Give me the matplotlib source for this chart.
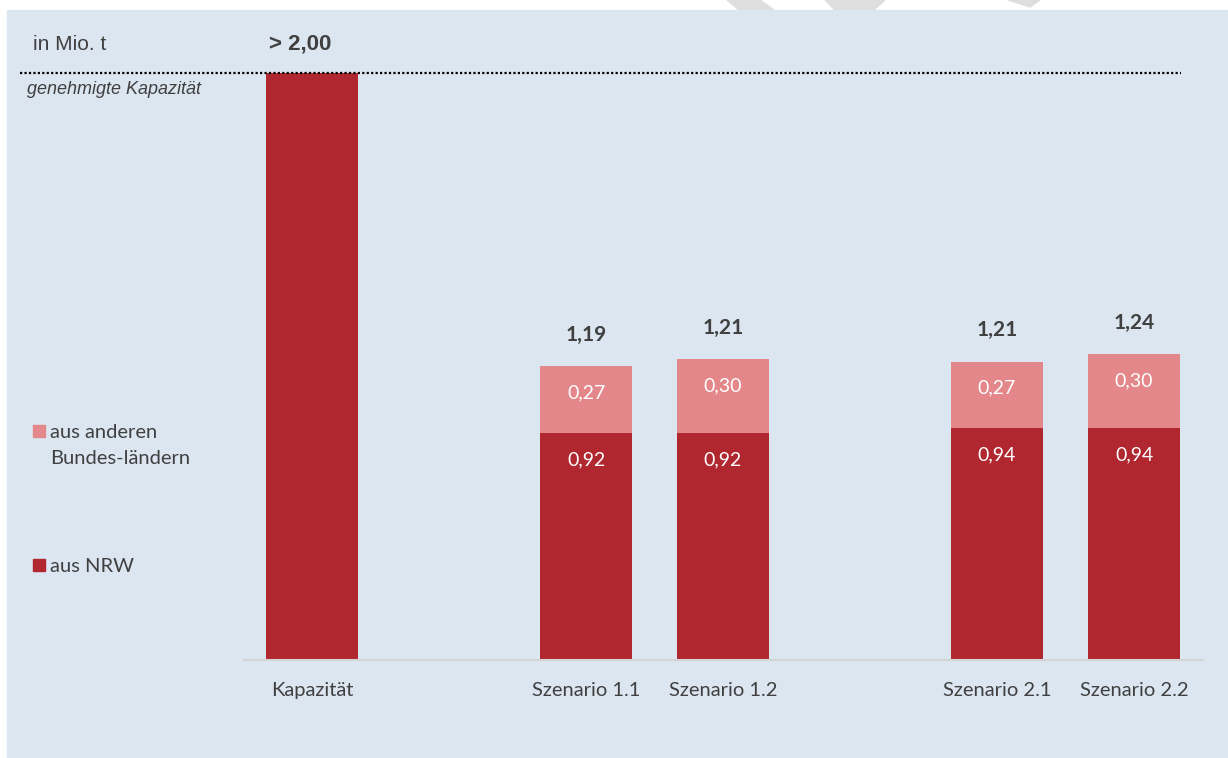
import matplotlib
matplotlib.use("Agg")
import matplotlib.pyplot as plt
from matplotlib.patches import Rectangle, Polygon

# Daten (in Mio. t)
kap_label = "Kapazität"
kap_text = "> 2,00"
szenarien = ["Szenario 1.1", "Szenario 1.2", "Szenario 2.1", "Szenario 2.2"]
gruppen = [1, 1, 2, 2]  # Szenario-Gruppe je Balken
aus_nrw = [0.92, 0.92, 0.94, 0.94]
aus_anderen = [0.27, 0.30, 0.27, 0.30]
summen = [1.19, 1.21, 1.21, 1.24]

leg_andere = ["aus anderen", "Bundes-ländern"]
leg_nrw = "aus NRW"

DUNKEL = "#B0272F"
HELL = "#E3878A"
HG = "#DCE6F1"
GRAU = "#404040"
W, H = 1228, 758


def fmt(v):
    return f"{v:.2f}".replace(".", ",")


def fx(px):
    return px / W


def fy(py):
    return 1 - py / H


fig = plt.figure(figsize=(W / 100, H / 100), dpi=100)
fig.patch.set_facecolor("white")

# Wasserzeichen-Reste oben (grau, hinter dem Panel)
for pts in ([(727, 0), (760, 0), (774, 10), (739, 10)],
            [(825, 0), (885, 0), (874, 10), (835, 10)],
            [(1008, 0), (1040, 0), (1030, 7)]):
    fig.add_artist(Polygon([(fx(a), fy(b)) for a, b in pts], closed=True,
                           transform=fig.transFigure, color="#dedede", zorder=0))

# Panel-Hintergrund
fig.add_artist(Rectangle((fx(7), 0), 1 - fx(7), fy(10), transform=fig.transFigure,
                         color=HG, zorder=0))

y_top = 2.38
ax = fig.add_axes([fx(243.5), fy(660), fx(1202.5) - fx(243.5), fy(73) - fy(660)])
ax.set_facecolor("none")

# x-Positionen: Lücke zwischen den Gruppen
pos = []
x = 0
prev = 0
for g in gruppen:
    x += 2 if g != prev else 1
    prev = g
    pos.append(x)

bw = 0.67
# Kapazität (oben abgeschnitten)
ax.bar(0, y_top, width=bw, color=DUNKEL, zorder=2)
ax.bar(pos, aus_nrw, width=bw, color=DUNKEL, zorder=2)
ax.bar(pos, aus_anderen, bottom=aus_nrw, width=bw, color=HELL, zorder=2)

fnt = "Lato"
for p, n, a, s in zip(pos, aus_nrw, aus_anderen, summen):
    ax.annotate(fmt(n), (p, n), xytext=(0, -19), textcoords="offset points",
                ha="center", va="center", color="white", fontsize=14, family=fnt)
    ax.annotate(fmt(a), (p, n + a), xytext=(0, -19), textcoords="offset points",
                ha="center", va="center", color="white", fontsize=14, family=fnt)
    ax.annotate(fmt(s), (p, n + a), xytext=(0, 22.5), textcoords="offset points",
                ha="center", va="center", color=GRAU, fontsize=15, fontweight="bold",
                family=fnt)

ax.set_xlim(-0.5, 6.5)
ax.set_ylim(0, y_top)
ax.set_xticks([0] + pos)
ax.set_xticklabels([kap_label] + szenarien, fontsize=14.5, color=GRAU, family=fnt)
ax.tick_params(axis="x", length=0, pad=15.5)
ax.set_yticks([])
for sp in ["left", "right", "top"]:
    ax.spines[sp].set_visible(False)
ax.spines["bottom"].set_color("#d4d4d4")
ax.spines["bottom"].set_linewidth(1.5)

# gepunktete Linie für genehmigte Kapazität
fig.add_artist(plt.Line2D([fx(20), fx(1181)], [fy(73), fy(73)], transform=fig.transFigure,
                          color="black", linewidth=1.6, linestyle=(0, (1, 1))))

fig.text(fx(33), fy(45), "in Mio. t", fontsize=15, color=GRAU, va="center",
         family="Liberation Sans")
fig.text(fx(269), fy(44), kap_text, fontsize=16, fontweight="bold", color=GRAU,
         va="center", family="Liberation Sans")
fig.text(fx(27), fy(89), "genehmigte Kapazität", fontsize=13, style="italic",
         color=GRAU, va="center", family="Liberation Sans")

# Legende
fig.add_artist(Rectangle((fx(33), fy(437)), fx(12), 12 / H, transform=fig.transFigure,
                         color=HELL))
fig.text(fx(50), fy(433), leg_andere[0], fontsize=14.5, color=GRAU, va="center", family=fnt)
fig.text(fx(50), fy(458), leg_andere[1], fontsize=14.5, color=GRAU, va="center", family=fnt)
fig.add_artist(Rectangle((fx(33), fy(571)), fx(12), 12 / H, transform=fig.transFigure,
                         color=DUNKEL))
fig.text(fx(50), fy(567), leg_nrw, fontsize=14.5, color=GRAU, va="center", family=fnt)

fig.savefig("out.png", dpi=100, facecolor="white")
